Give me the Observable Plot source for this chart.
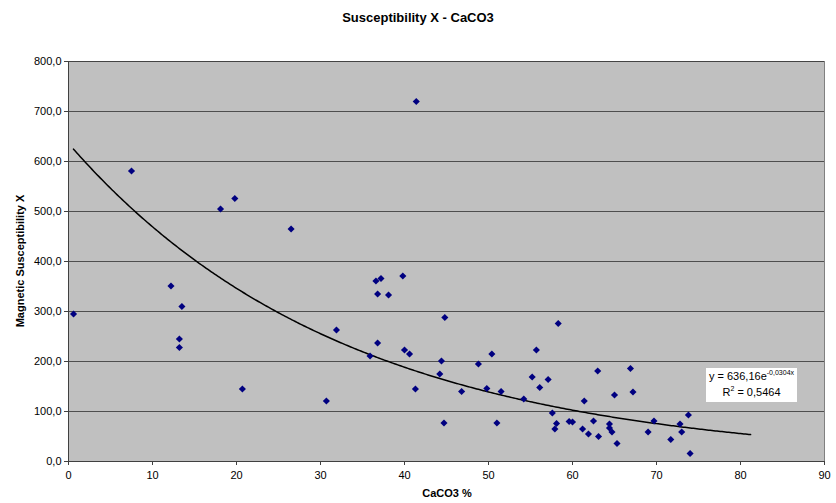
<!DOCTYPE html>
<html>
<head>
<meta charset="utf-8">
<script src="https://cdn.jsdelivr.net/npm/d3@7"></script>
<script src="https://cdn.jsdelivr.net/npm/@observablehq/plot@0.6"></script>
<style>
  html, body { margin: 0; padding: 0; background: #fff; }
  #wrap { position: relative; width: 836px; height: 503px; font-family: "Liberation Sans", Arial, sans-serif; }
  #title { height: 40px; line-height: 36px; text-align: center; font-weight: bold; font-size: 13px; color: #000; }
  #eq { position: absolute; left: 706px; top: 368px; width: 91px; height: 34px; background: #fff; font-size: 11px; color: #000; line-height: 16px; text-align: center; }
  #eq sup { font-size: 7px; vertical-align: 5px; line-height: 0; }
  svg text { font-family: "Liberation Sans", Arial, sans-serif; }
</style>
</head>
<body>
<div id="wrap">
  <div id="title">Susceptibility X - CaCO3</div>
  <div id="chart"></div>
  <div id="eq"><div>y = 636,16e<sup>-0,0304x</sup></div><div>R<sup>2</sup> = 0,5464</div></div>
</div>
<script>
// CaCO3 % values
const caco3 = [0.6, 7.5, 12.2, 13.5, 13.2, 13.2, 18.1, 19.8, 20.7, 26.5,
  30.7, 31.9, 35.9, 36.6, 37.2, 36.8, 36.8, 38.1, 39.8, 40.0,
  40.6, 41.3, 41.4, 44.2, 44.4, 44.8, 44.7, 46.8, 48.8, 49.8,
  50.4, 51.0, 51.5, 54.2, 55.2, 55.7, 56.1, 57.1, 57.6, 57.9,
  58.1, 58.3, 59.6, 60.0, 61.2, 61.4, 61.9, 62.5, 63.0, 63.1,
  64.4, 64.4, 64.7, 65.0, 65.3, 66.9, 67.2, 69.0, 69.7, 71.7,
  72.8, 73.0, 73.8, 74.0];
// Magnetic susceptibility X values
const susceptibility = [295, 581, 351, 310, 245, 228, 505, 526, 145, 465,
  121, 263, 211, 361, 366, 335, 237, 333, 371, 223,
  215, 145, 720, 175, 201, 288, 77, 140, 195, 146,
  215, 77, 140, 125, 169, 223, 148, 164, 97, 65,
  76, 276, 80, 79, 65, 121, 55, 81, 181, 50,
  75, 67, 59, 133, 36, 186, 139, 59, 81, 44,
  75, 59, 93, 16];
// exponential trendline parameters (from the chart's equation)
const trendA = 636.16, trendB = -0.0304, trendStart = 0.6, trendEnd = 81.2;
const xTicks = [0, 10, 20, 30, 40, 50, 60, 70, 80, 90];
const yTicks = [0, 100, 200, 300, 400, 500, 600, 700, 800];

const points = caco3.map((x, i) => ({x, y: susceptibility[i]}));
const trend = d3.range(trendStart, trendEnd + 0.001, 0.2).map(x => ({x, y: trendA * Math.exp(trendB * x)}));
const fmtY = d => d3.format(".1f")(d).replace(".", ",");

const chart = Plot.plot({
  width: 836,
  height: 463,
  marginLeft: 68,
  marginRight: 12,
  marginTop: 21,
  marginBottom: 42,
  style: {fontSize: "11px", fontFamily: "Liberation Sans, Arial, sans-serif", color: "#000", background: "transparent"},
  x: {domain: [0, 90], ticks: xTicks},
  y: {domain: [0, 800], ticks: yTicks},
  marks: [
    Plot.frame({fill: "#c0c0c0", stroke: "#808080"}),
    Plot.gridY(yTicks, {stroke: "#3a3a3a", strokeOpacity: 0.85}),
    Plot.ruleX([0], {stroke: "#404040"}),
    Plot.ruleY([0], {stroke: "#404040"}),
    Plot.axisY(yTicks, {tickFormat: fmtY, tickSize: 4, tickPadding: 3, stroke: "#404040", label: null}),
    Plot.axisX(xTicks, {tickSize: 4, tickPadding: 6, stroke: "#404040", label: null}),
    Plot.line(trend, {x: "x", y: "y", stroke: "#000", strokeWidth: 1.5}),
    Plot.dot(points, {x: "x", y: "y", symbol: "diamond2", r: 3.2, fill: "#000080", stroke: "none"})
  ]
});
document.getElementById("chart").appendChild(chart);

// axis titles drawn as text in the SVG
const svg = d3.select(chart);
svg.append("text")
  .attr("x", 447).attr("y", 457)
  .attr("text-anchor", "middle")
  .attr("font-weight", "bold").attr("font-size", 11)
  .text("CaCO3 %");
svg.append("text")
  .attr("transform", "translate(24,221) rotate(-90)")
  .attr("text-anchor", "middle")
  .attr("font-weight", "bold").attr("font-size", 11)
  .text("Magnetic Susceptibility X");
</script>
</body>
</html>
